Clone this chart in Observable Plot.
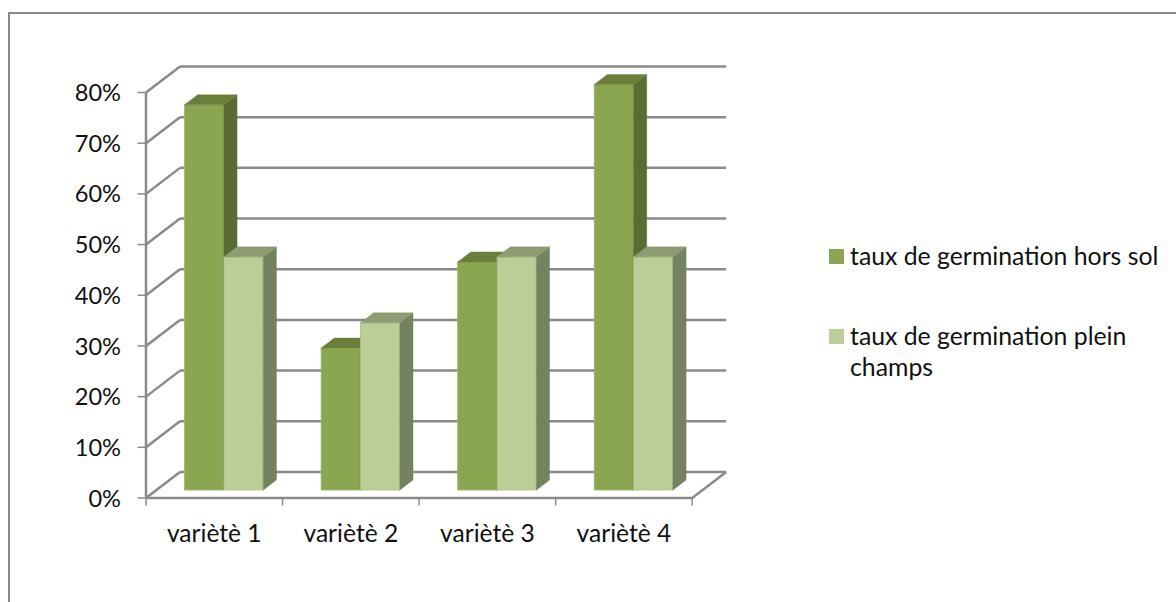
<!DOCTYPE html>
<html lang="fr"><head><meta charset="utf-8">
<script src="https://cdn.jsdelivr.net/npm/d3@7"></script>
<script src="https://cdn.jsdelivr.net/npm/@observablehq/plot@0.6"></script>
<style>
html,body{margin:0;padding:0;background:#fff;width:1176px;height:602px;overflow:hidden}
#chart{position:absolute;left:0;top:0}
#border{position:absolute;left:8px;top:12px;width:1168px;height:590px;border-left:2px solid #8b8b8b;border-top:2px solid #8b8b8b;box-sizing:border-box}
#legend{position:absolute;left:829px;top:240px;width:340px;font:24.8px/31px Lato,sans-serif;color:#111}
#legend .item{position:relative;padding-left:21px;margin-bottom:49px}
#legend .sw{position:absolute;left:0;top:9px;width:15px;height:15px}
</style></head><body>
<div id="border"></div><div id="chart"></div>
<div id="legend"></div>
<script>
const categories = ["variètè 1","variètè 2","variètè 3","variètè 4"];
const horsSol = [76,28,45,80];
const pleinChamps = [46,33,46,46];
const yTicks = [0,10,20,30,40,50,60,70,80];
const seriesNames = ["taux de germination hors sol","taux de germination plein champs"];
const colorsDark = {front:"#8aa650",top:"#6b7f3a",side:"#5a6b33",edge:"#9db567"};
const colorsLight = {front:"#bbce97",top:"#8e9c73",side:"#73825f",edge:"#a9bf82"};

// oblique projection, in data units: how far the back wall is shifted from the front plane
const wallDx = 0.249, wallDy = 5.13;
const barStart = 0.288, barDepth = 0.385;   // bar depth as fraction of the wall depth
const barWidth = 0.2885, barGap = 0.2145;

function barFaces(values, offset){
  const depthX = barDepth*wallDx, depthY = barDepth*wallDy;
  const shiftX = barStart*wallDx, shiftY = barStart*wallDy;
  const bars = values.map((v,i)=>{
    const x1 = i+barGap+offset*barWidth+shiftX;
    return {i,v,x1,x2:x1+barWidth,y0:shiftY,y1:v+shiftY};
  });
  const side = bars.flatMap(b=>[
    {z:b.i,x:b.x2,lo:b.y0,hi:b.y1},
    {z:b.i,x:b.x2+depthX,lo:b.y0+depthY,hi:b.y1+depthY}]);
  const top = bars.flatMap(b=>[
    {z:b.i,y:b.y1,a:b.x1,b:b.x2},
    {z:b.i,y:b.y1+depthY,a:b.x1+depthX,b:b.x2+depthX}]);
  return {bars,side,top};
}
function barMarks(values, offset, c){
  const f = barFaces(values, offset);
  return [
    Plot.rect(f.bars,{x1:"x1",x2:"x2",y1:"y0",y2:"y1",fill:c.front,stroke:c.edge,strokeWidth:0.8}),
    Plot.areaY(f.side,{x:"x",y1:"lo",y2:"hi",z:"z",fill:c.side,stroke:c.side,strokeWidth:0.4}),
    Plot.areaX(f.top,{y:"y",x1:"a",x2:"b",z:"z",fill:c.top,stroke:c.top,strokeWidth:0.4})
  ];
}
const gridStyle = {stroke:"#8a8a8a",strokeWidth:2.5,strokeOpacity:1};
const plot = Plot.plot({
  width:1176,height:602,
  marginLeft:145.5,marginRight:1176-691.7,marginTop:92,marginBottom:602-497.5,
  x:{type:"linear",domain:[0,4]},
  y:{type:"linear",domain:[0,80]},
  style:{background:"transparent",fontFamily:"Lato, sans-serif",fontSize:"24px",color:"#111"},
  marks:[
    Plot.link(yTicks,{x1:0,y1:d=>d,x2:wallDx,y2:d=>d+wallDy,...gridStyle}),
    Plot.link(yTicks,{x1:wallDx,y1:d=>d+wallDy,x2:4+wallDx,y2:d=>d+wallDy,...gridStyle}),
    Plot.link([0],{x1:0,y1:0,x2:4,y2:0,...gridStyle}),
    Plot.link([0],{x1:4,y1:0,x2:4+wallDx,y2:wallDy,...gridStyle}),
    Plot.link([0],{x1:0,y1:0,x2:0,y2:80,...gridStyle}),
    Plot.axisY({ticks:yTicks,tickFormat:()=>"",tickSize:8,label:null,stroke:"#8a8a8a",strokeWidth:1.5}),
    Plot.axisY({ticks:yTicks,tickFormat:d=>d+"%",tickSize:0,tickPadding:25,dy:1,label:null,fontSize:23.6,fill:"#111"}),
    Plot.axisX({ticks:[0,1,2,3,4],tickFormat:()=>"",tickSize:8,label:null,stroke:"#8a8a8a",strokeWidth:1.5}),
    Plot.axisX({ticks:[0.5,1.5,2.5,3.5],tickFormat:d=>categories[d-0.5],tickSize:0,tickPadding:27,label:null,fontSize:24.6,fill:"#111"}),
    ...barMarks(horsSol,0,colorsDark),
    ...barMarks(pleinChamps,1,colorsLight)
  ]
});
document.getElementById("chart").append(plot);
const lg = document.getElementById("legend");
seriesNames.forEach((n,i)=>{
  const it=document.createElement("div");it.className="item";
  const sw=document.createElement("span");sw.className="sw";sw.style.background=[colorsDark,colorsLight][i].front;
  it.append(sw,document.createTextNode(n));lg.append(it);
});
</script></body></html>
